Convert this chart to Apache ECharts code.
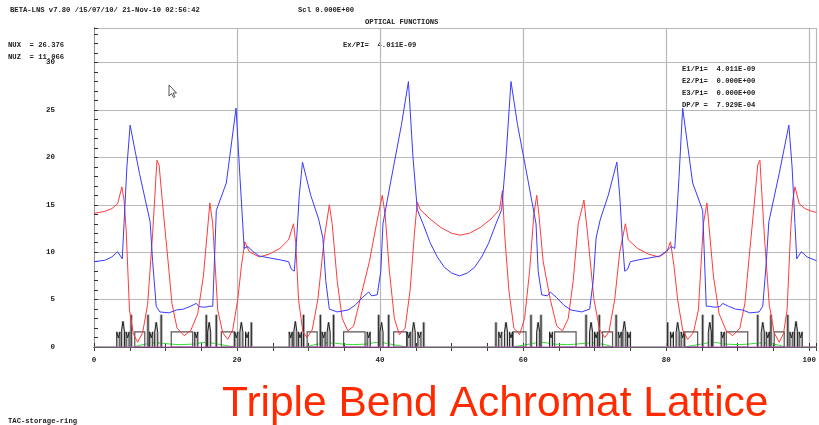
<!DOCTYPE html>
<html><head><meta charset="utf-8">
<script src="https://cdn.jsdelivr.net/npm/echarts@6/dist/echarts.min.js"></script>
<style>html,body{margin:0;padding:0;background:#fff}#c{width:819px;height:425px}</style>
</head><body><div id="c"></div>
<script>
// ---- data ----
const xTicks = [0, 20, 40, 60, 80, 100];
const yTicks = [0, 5, 10, 15, 20, 25, 30];
const betaX = [[0,9.0],[1.5,9.15],[2.5,9.5],[3.3,10.05],[3.7,9.6],[3.95,9.3],[4.2,13],[4.6,19],[5.05,23.4],[6.36,18.3],[7.85,13.2],[8.2,9],[8.7,4.3],[9.2,3.7],[10.5,3.6],[11.5,3.9],[12.5,4.0],[13.5,4.3],[14.3,4.6],[14.7,4.25],[15.5,4.2],[16.2,4.3],[16.6,4.3],[17.1,14.4],[18.5,17.3],[19.86,25.2],[20.4,18],[21.0,10.4],[21.5,10.6],[22.2,10.1],[23.1,9.6],[24.5,9.4],[26,9.2],[27.2,9.0],
[27.6,8.2],[28.0,8.0],[28.3,11],[28.7,16],[29.15,19.5],[30.3,16],[31.4,13.5],[32.0,11.5],[32.4,7],[32.9,4.0],[34,3.7],[35.5,3.9],[36.5,4.4],[37.5,5.2],[38.4,5.8],[38.8,5.4],[39.6,5.5],[40.1,8],[40.4,13],[41.5,17.5],[43,23.5],[43.96,28],[44.6,20],[45.2,14.5],[46,13],[47,11],[48,9.5],[49,8.4],[50,7.8],[51.1,7.5],
[52.2,7.8],[53.2,8.4],[54.2,9.5],[55.2,11],[56.2,13],[57,14.5],[57.6,20],[58.3,28],[59.2,23.5],[60.7,17.5],[61.8,13],[62.1,8],[62.6,5.5],[63.4,5.4],[63.8,5.8],[64.7,5.2],[65.7,4.4],[66.7,3.9],[68.2,3.7],[69.3,4.0],[69.8,7],[70.2,11.5],[70.8,13.5],[71.9,16],[73.1,19.5],[73.5,16],[73.9,11],[74.2,8.0],[74.6,8.2],
[75,9.0],[76.2,9.2],[77.7,9.4],[79.1,9.6],[80,10.1],[80.7,10.6],[81.2,10.4],[81.8,18],[82.3,25.2],[83.7,17.3],[85.1,14.4],[85.6,4.3],[86,4.3],[86.7,4.2],[87.5,4.25],[87.9,4.6],[88.7,4.3],[89.7,4.0],[90.7,3.9],[91.7,3.6],[93,3.7],[93.5,4.3],[94,9],[94.35,13.2],[95.8,18.3],[97.15,23.4],[97.6,19],[98,13],[98.25,9.3],[98.5,9.6],[98.9,10.05],[99.7,9.5],[101,9.1]];
const betaY = [[0,14.1],[1.5,14.3],[2.5,14.6],[3.3,15.1],[3.9,16.9],[4.2,15.5],[4.5,12.3],[4.96,3.9],[5.5,1.4],[6.1,0.5],[6.8,1.5],[7.5,4.5],[8.2,12],[8.8,19.7],[9.1,19.2],[9.6,15],[10.3,9.5],[10.9,4.6],[11.6,2.0],[12.6,1.2],[13.5,1.7],[14.5,3.5],[15.3,7.5],[16.2,15.2],[16.6,13],[17.3,3.9],[18.0,1.5],[18.7,0.8],[19.4,1.8],[20.1,5],[20.6,8.5],[21.1,11.1],[21.7,10.05],[23.1,9.5],[24.5,9.8],[26,10.4],[27.2,11.3],
[27.9,13],[28.2,11],[28.6,5],[29.2,1.6],[29.8,1.0],[30.5,1.8],[31.3,5],[32.2,11.5],[32.9,15],[33.3,13],[34,7],[34.7,3.0],[35.5,1.7],[36.3,2.2],[37.2,5],[38.5,9],[39.5,13],[40.3,16],[40.7,14],[41.3,8],[42,3],[42.7,1.3],[43.5,2],[44.2,6],[44.8,12],[45.2,15.3],[45.6,14.5],[47,13.5],[48.5,12.6],[50,12.0],[51.2,11.8],
[52.5,12.0],[54,12.6],[55.5,13.5],[56.7,14.5],[57.1,16.5],[57.4,12],[58,6],[58.7,2],[59.5,1.3],[60.2,3],[60.9,8],[61.5,14],[61.9,16],[62.2,14],[62.8,9],[63.8,5],[64.7,2.2],[65.5,1.7],[66.3,3.0],[67.0,7],[67.7,13],[68.5,15.5],[69,12],[69.9,5],[70.7,1.8],[71.4,1.0],[72,1.6],[72.8,5],[73.5,10],[74.3,13],[74.7,11.3],
[76,10.4],[77.5,9.8],[79,9.5],[80.1,10.05],[80.6,11.1],[81.1,8.5],[81.6,5],[82.3,1.8],[83,0.8],[83.8,1.5],[84.5,3.9],[85.2,13],[85.7,15.2],[86.6,7.5],[87.4,3.5],[88.4,1.7],[89.3,1.2],[90.3,2.0],[91,4.6],[91.6,9.5],[92.3,15],[92.8,19.2],[93.1,19.7],[93.7,12],[94.4,4.5],[95.1,1.5],[95.8,0.5],[96.4,1.4],[96.9,3.9],[97.4,12.3],[97.7,15.5],[98,16.9],[98.6,15.1],[99.4,14.6],[100.4,14.3],[101,14.2]];
const etaX = [[0,0],[5.6,0],[6.5,0.2],[7.5,0.35],[8.5,0.45],[9.5,0.4],[10.8,0.3],[12,0.25],[13.8,0.3],[15,0.45],[16,0.5],[17,0.35],[18.5,0.15],[19.6,0],
[29.7,0],[30.6,0.2],[31.6,0.35],[32.6,0.45],[33.6,0.4],[34.9,0.3],[36.1,0.25],[37.9,0.3],[39.1,0.45],[40.1,0.5],[41.1,0.35],[42.6,0.15],[43.7,0],
[58.6,0],[59.7,0.15],[61.2,0.35],[62.2,0.5],[63.2,0.45],[64.4,0.3],[66.2,0.25],[67.4,0.3],[68.7,0.4],[69.7,0.45],[70.7,0.35],[71.7,0.2],[72.6,0],
[82.6,0],[83.7,0.15],[85.2,0.35],[86.2,0.5],[87.2,0.45],[88.4,0.3],[90.2,0.25],[91.4,0.3],[92.7,0.4],[93.7,0.45],[94.7,0.35],[95.7,0.2],[96.6,0],[101,0]];
const etaY = [[0,0],[101,0]];
// lattice: [type, position from cell start, length, height]
const cellElements = [['S',0.2,0,1.6],['T',0.85,0,2.7],['S',1.5,0,1.6],['Q',2.0,0,3.4],['B',2.5,1.4,1.6],['Q',4.35,0,3.4],['S',4.8,0,1.6],['T',5.5,0,2.6],['Q',6.2,0,3.4],['B',7.6,3.0,1.6],['S',11.1,0,1.6],['Q',12.5,0,3.4],['T',12.9,0,2.6],['Q',13.9,0,3.4],['B',14.6,1.8,1.6],['S',16.7,0,1.6],['T',17.4,0,2.6],['S',18.2,0,1.6],['Q',18.8,0,2.6]];
const cellStarts = [3.2, 27.3, 75.0, 99.0];
const cellDirections = [1, 1, -1, -1];

// ---- build lattice items ----
const latticeItems = [];
cellStarts.forEach((s0, ci) => {
  const d = cellDirections[ci];
  cellElements.forEach(e => {
    const a = d > 0 ? s0 + e[1] : s0 - e[1] - e[2];
    latticeItems.push([a, e[2], ['B','Q','S','T'].indexOf(e[0]), e[3]]);
  });
});

const FONT = 'Liberation Mono';
const chart = echarts.init(document.getElementById('c'), null, {renderer: 'canvas'});
function txt(x, y, s, extra) {
  return Object.assign({type: 'text', x: x, y: y, style: {text: s, font: 'bold 7.2px "' + FONT + '"', fill: '#222', textVerticalAlign: 'middle'}}, extra || {});
}
const option = {
  animation: false,
  backgroundColor: '#fff',
  grid: {left: 94, right: 2, top: 28, bottom: 78, containLabel: false},
  xAxis: [{
    type: 'value', min: 0, max: 101, interval: 20, position: 'bottom', offset: 3,
    axisLine: {lineStyle: {color: '#333', width: 1}},
    axisTick: {inside: true, length: 4, lineStyle: {color: '#333'}},
    minorTick: {show: true, splitNumber: 4, length: 4, lineStyle: {color: '#333'}},
    axisLabel: {showMaxLabel: false, margin: 6, fontFamily: FONT, fontWeight: 'bold', fontSize: 7.5, color: '#222',
      formatter: v => xTicks.indexOf(v) >= 0 ? String(v) : ''},
    splitLine: {show: true, lineStyle: {color: '#b8b8b8', width: 1.2}}
  }, {
    type: 'value', min: 0, max: 101, interval: 20, position: 'top',
    axisLine: {lineStyle: {color: '#444', width: 1}},
    axisTick: {inside: true, length: 4, lineStyle: {color: '#444'}},
    minorTick: {show: true, splitNumber: 4, length: 4, lineStyle: {color: '#444'}},
    axisLabel: {show: false}, splitLine: {show: false}
  }],
  yAxis: [{
    type: 'value', min: 0, max: 33.65, interval: 5, position: 'left',
    axisLine: {show: true, lineStyle: {color: '#333', width: 1}},
    axisTick: {inside: true, length: 4, lineStyle: {color: '#333'}},
    minorTick: {show: true, splitNumber: 5, length: 4, lineStyle: {color: '#333'}},
    axisLabel: {showMaxLabel: false, margin: 39, fontFamily: FONT, fontWeight: 'bold', fontSize: 7.5, color: '#222',
      formatter: v => yTicks.indexOf(v) >= 0 ? String(v) : ''},
    splitLine: {show: true, lineStyle: {color: '#b8b8b8', width: 1.2}}
  }, {
    type: 'value', min: 0, max: 33.65, interval: 5, position: 'right',
    axisLine: {show: true, lineStyle: {color: '#999', width: 1}},
    axisTick: {show: false}, axisLabel: {show: false}, splitLine: {show: false}
  }],
  series: [
    {type: 'line', data: etaX, showSymbol: false, lineStyle: {color: '#33dd33', width: 1}, z: 2},
    {type: 'custom', data: latticeItems, z: 3, clip: true,
      renderItem: function (params, api) {
        const s = api.value(0), len = api.value(1), t = api.value(2), h = api.value(3);
        const p0 = api.coord([s, 0]);
        const top = api.coord([s, h])[1];
        const u = api.size([1, 1])[0];
        if (t === 0) {
          const p1 = api.coord([s + len, h]);
          return {type: 'rect', shape: {x: p0[0], y: p1[1], width: p1[0] - p0[0], height: p0[1] - p1[1]},
            style: {fill: 'none', stroke: '#555', lineWidth: 1.2}};
        }
        if (t === 1) {
          return {type: 'group', children: [
            {type: 'rect', shape: {x: p0[0] - 0.2 * u, y: top, width: 0.4 * u, height: p0[1] - top}, style: {fill: '#aaa', stroke: 'none'}},
            {type: 'line', shape: {x1: p0[0], y1: p0[1], x2: p0[0], y2: top}, style: {stroke: '#222', lineWidth: 1}}
          ]};
        }
        const w = 0.22 * u;
        const mid = p0[1] - (p0[1] - top) * 0.6;
        let pts;
        if (t === 2) pts = [[p0[0] - w, p0[1]], [p0[0] - w, top], [p0[0], mid], [p0[0] + w, top], [p0[0] + w, p0[1]]];
        else pts = [[p0[0] - w, p0[1]], [p0[0] - w, mid], [p0[0], top], [p0[0] + w, mid], [p0[0] + w, p0[1]]];
        return {type: 'group', children: [
          {type: 'rect', shape: {x: p0[0] - w, y: top, width: 2 * w, height: p0[1] - top}, style: {fill: '#c8c8c8', stroke: 'none'}},
          {type: 'polyline', shape: {points: pts}, style: {stroke: '#222', fill: 'none', lineWidth: 1}}
        ]};
      }
    },
    {type: 'line', data: betaY, showSymbol: false, lineStyle: {color: '#ff3b3b', width: 1}, z: 4},
    {type: 'line', data: betaX, showSymbol: false, lineStyle: {color: '#3a3aff', width: 1}, z: 5},
    {type: 'line', data: etaY, showSymbol: false, lineStyle: {color: '#cc55cc', width: 1.2}, z: 6}
  ],
  graphic: [
    txt(10, 10, 'BETA-LNS v7.80 /15/07/10/ 21-Nov-10 02:56:42'),
    txt(298, 10, 'Scl 0.000E+00'),
    txt(365, 22, 'OPTICAL FUNCTIONS'),
    txt(8, 45, 'NUX  = 26.376'),
    txt(8, 57, 'NUZ  = 11.066'),
    txt(343, 45, 'Ex/PI=  4.011E-09'),
    txt(682, 69, 'E1/Pi=  4.011E-09'),
    txt(682, 81, 'E2/Pi=  0.000E+00'),
    txt(682, 93, 'E3/Pi=  0.000E+00'),
    txt(682, 105, 'DP/P =  7.929E-04'),
    txt(8, 421, 'TAC-storage-ring'),
    {type: 'text', x: 222, y: 404, style: {text: 'Triple Bend Achromat Lattice', font: '42.5px "Liberation Sans"', fill: '#ff2a00', textVerticalAlign: 'middle'}},
    {type: 'polygon', shape: {points: [[169,85],[169,96],[171.5,93.5],[173.5,97.5],[175,96.8],[173,93],[176.5,93]]}, style: {fill: '#fff', stroke: '#555', lineWidth: 1}}
  ]
};
chart.setOption(option);
</script></body></html>
